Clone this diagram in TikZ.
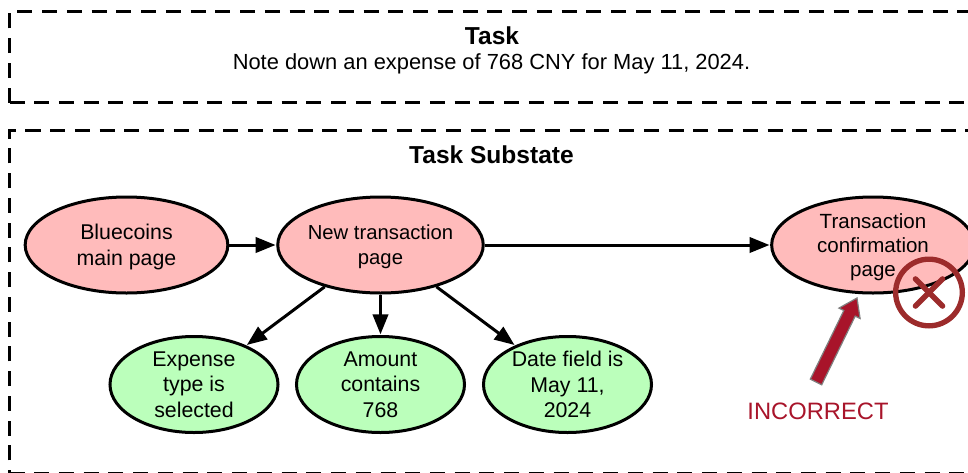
\documentclass[tikz,border=0pt]{standalone}
\usepackage{fontspec}
\usepackage{xcolor}
\usetikzlibrary{arrows.meta, shapes.geometric}
\setmainfont{Liberation Sans}

\definecolor{statered}{HTML}{FFBBBB}
\definecolor{stategreen}{HTML}{BBFFBB}
\definecolor{wrongred}{HTML}{A8142A}
\definecolor{markred}{HTML}{9C2B2B}

\tikzset{
	dashbox/.style={line width=2.25pt, dash pattern=on 11.25pt off 7.3pt},
	pagestate/.style={ellipse, draw, line width=2.25pt, fill=statered, inner sep=0pt, minimum width=152pt, minimum height=72pt, align=center, text depth=0pt, font=\fontsize{16}{19.2}\selectfont},
	checkstate/.style={pagestate, fill=stategreen, minimum width=126pt},
	link/.style={line width=2.25pt, -{Triangle[length=15pt, width=11.5pt]}, shorten >=0.5pt},
}

\begin{document}
\begin{tikzpicture}[x=0.75pt, y=-0.75pt]
	\clip (0, 0) rectangle (968, 472);

	% Task box
	\draw[dashbox] (9.5, 102.5) -- (9.5, 11.5) -- (990, 11.5);
	\draw[dashbox] (9.5, 102.5) -- (990, 102.5);
	\node[anchor=base, font=\fontsize{18.4}{22}\selectfont\bfseries] (task) at (492, 44) {Task};
	\node[anchor=base, font=\fontsize{16.4}{20}\selectfont] (tasktext) at (491.5, 69) {Note down an expense of 768 CNY for May 11, 2024.};

	% Substate box
	\draw[dashbox, dash phase=8.4pt] (9.5, 473.8) -- (9.5, 130) -- (990, 130);
	\draw[dashbox] (9.5, 473.8) -- (990, 473.8);
	\node[anchor=base, font=\fontsize{18.4}{22}\selectfont\bfseries] (substate) at (491.5, 163) {Task Substate};

	\node[pagestate] (main) at (126.5, 245) {Bluecoins\\main page};
	\node[pagestate, font=\fontsize{15.2}{18.7}\selectfont] (new) at (380.5, 245) {New transaction\\page};
	\node[pagestate, font=\fontsize{15.4}{18}\selectfont] (confirm) at (873, 245) {Transaction\\confirmation\\page};

	\node[checkstate] (expense) at (194, 384.5) {Expense\\type is\\selected};
	\node[checkstate] (amount) at (380.5, 384.5) {Amount\\contains\\768};
	\node[checkstate] (date) at (567.5, 384.5) {Date field is\\May 11,\\2024};

	% Draw the edges between nodes
	\draw[link] (main) -- (new);
	\draw[link] (new) -- (confirm);
	\draw[link] (new) -- (expense);
	\draw[link] (new) -- (amount);
	\draw[link] (new) -- (date);

	% Failed state mark
	\node[circle, draw=markred, line width=4pt, inner sep=0pt, minimum size=50pt] (mark) at (929, 292.5) {};
	\draw[markred, line width=4.2pt, line cap=round] (915.5, 279) -- (942.5, 306);
	\draw[markred, line width=4.2pt, line cap=round] (942.5, 279) -- (915.5, 306);

	\draw[fill=wrongred, draw=gray, line width=0.9pt] (810.3, 379.2) -- (843.8, 310.5) -- (838.9, 308.1) -- (857, 298) -- (860.1, 318.5) -- (855.2, 316.1) -- (821.7, 384.8) -- cycle;
	\node[anchor=base, text=wrongred, font=\fontsize{17.8}{22}\selectfont] (incorrect) at (818, 419) {INCORRECT};
\end{tikzpicture}
\end{document}
